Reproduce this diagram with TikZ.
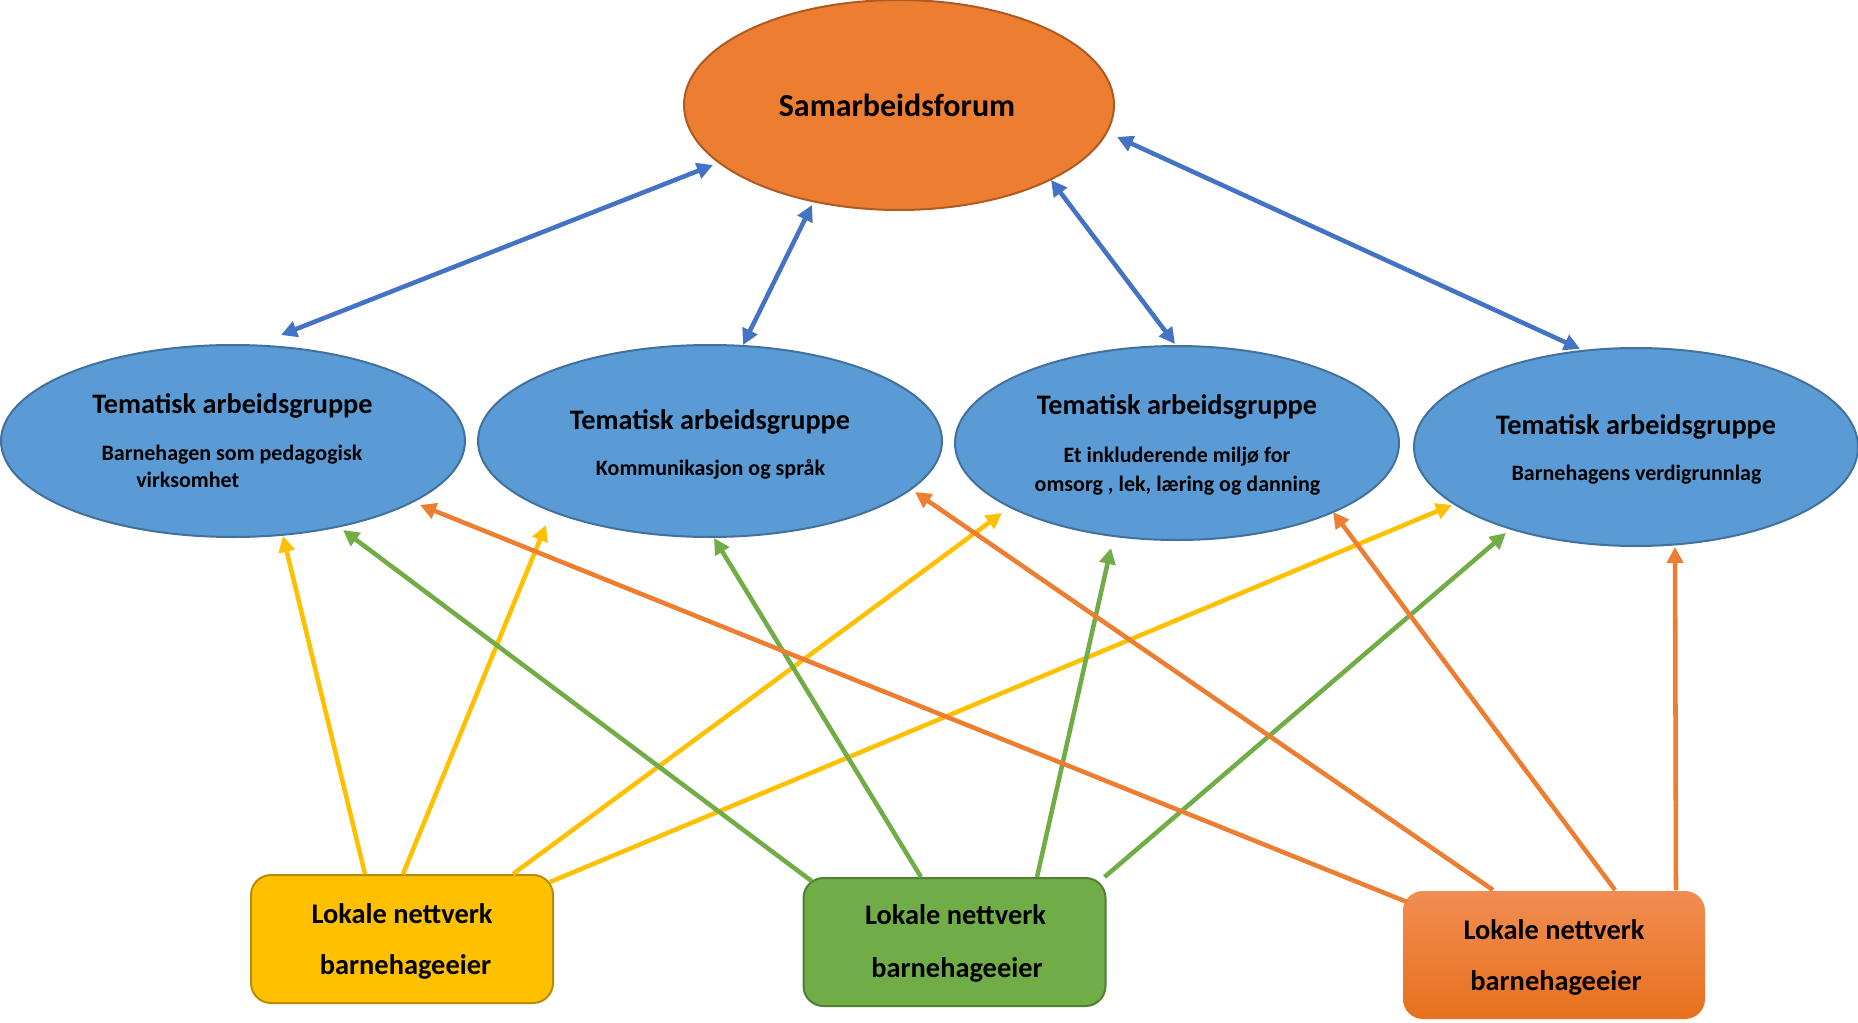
\documentclass[tikz,border=0pt]{standalone}
\usepackage{fontspec}
\setmainfont{Carlito}
\usetikzlibrary{shapes.geometric,arrows.meta,calc}
\definecolor{ellfill}{HTML}{5B9BD5}
\definecolor{ellborder}{HTML}{41719C}
\definecolor{samfill}{HTML}{ED7D31}
\definecolor{samborder}{HTML}{AE5A21}
\definecolor{arrblue}{HTML}{4472C4}
\definecolor{arryellow}{HTML}{FFC000}
\definecolor{arrgreen}{HTML}{70AD47}
\definecolor{arrorange}{HTML}{ED7D31}
\definecolor{yborder}{HTML}{BC8C00}
\definecolor{gborder}{HTML}{507E32}
\definecolor{otop}{HTML}{F18D52}
\definecolor{obot}{HTML}{E8701D}
\begin{document}
\begin{tikzpicture}[x=0.75pt,y=-0.75pt,
  ell/.style={ellipse, draw=ellborder, fill=ellfill, line width=1.5pt, inner sep=0pt},
  netbox/.style={rectangle, rounded corners=15pt, line width=1.5pt, inner sep=0pt,
     minimum width=226.5pt, minimum height=96pt},
  head/.style={font=\bfseries\fontsize{21.2}{25}\selectfont, anchor=base, inner sep=0pt},
  lok/.style={font=\bfseries\fontsize{21.3}{25}\selectfont, anchor=base, inner sep=0pt},
  sub/.style={font=\bfseries\fontsize{16.5}{19}\selectfont, anchor=base, inner sep=0pt},
  arr/.style={line width=3.4pt, -{Triangle[length=12pt,width=12pt]}},
  darr/.style={line width=3.4pt, arrblue, {Triangle[length=12pt,width=12pt]}-{Triangle[length=12pt,width=12pt]}}
]
\useasboundingbox (0,0) rectangle (1858,1023);

% main nodes
\node[ellipse, draw=samborder, fill=samfill, line width=1.5pt, inner sep=0pt,
      minimum width=322.5pt, minimum height=157.5pt] (s) at (899,105) {};
\node[ell, minimum width=348pt, minimum height=144pt] (e1) at (233,441) {};
\node[ell, minimum width=348pt, minimum height=144pt] (e2) at (710,441) {};
\node[ell, minimum width=333pt, minimum height=145.5pt] (e3) at (1177,443) {};
\node[ell, minimum width=333pt, minimum height=148.5pt] (e4) at (1636,447) {};

\node[netbox, draw=yborder, fill=arryellow] (yb) at (402,939) {};
\node[netbox, draw=gborder, fill=arrgreen] (gb) at (954.5,942) {};
\node[netbox, draw=none, top color=otop, bottom color=obot] (ob) at (1554,955) {};

% texts
\node[font=\bfseries\fontsize{24}{28}\selectfont, anchor=base, inner sep=0pt] (st) at (897,116.5) {Samarbeidsforum};

\node[head] (h1) at (232.5,413) {Tematisk arbeidsgruppe};
\node[sub] (s1a) at (232,460) {Barnehagen som pedagogisk};
\node[sub, anchor=base west] (s1b) at (136,487) {virksomhet};

\node[head] (h2) at (710,429) {Tematisk arbeidsgruppe};
\node[sub] (s2) at (710.5,475) {Kommunikasjon og språk};

\node[head] (h3) at (1177,414) {Tematisk arbeidsgruppe};
\node[sub] (s3a) at (1177,462) {Et inkluderende miljø for};
\node[sub] (s3b) at (1177.5,491) {omsorg , lek, læring og danning};

\node[head] (h4) at (1636,434) {Tematisk arbeidsgruppe};
\node[sub] (s4) at (1636.5,480) {Barnehagens verdigrunnlag};

\node[lok] (yl1) at (402,923) {Lokale nettverk};
\node[lok] (yl2) at (405.5,974) {barnehageeier};
\node[lok] (gl1) at (955.5,924) {Lokale nettverk};
\node[lok] (gl2) at (957,977) {barnehageeier};
\node[lok] (ol1) at (1554,939) {Lokale nettverk};
\node[lok] (ol2) at (1556,990) {barnehageeier};

% blue double arrows
\draw[darr] ($(e1)+(48,-106)$) -- ($(s)+(-186,60)$);
\draw[darr] ($(e2)+(33,-96)$) -- ($(s)+(-87,100)$);
\draw[darr] ($(s)+(152,75)$) -- ($(e3)+(-2,-99)$);
\draw[darr] ($(s)+(218,32)$) -- ($(e4)+(-56,-98)$);

% yellow arrows
\draw[arr, arryellow] ($(yb.north)+(-37,0)$) -- ($(e1)+(50,95)$);
\draw[arr, arryellow] ($(yb.north)+(1,0)$) -- ($(e2)+(-164,84)$);
\draw[arr, arryellow] ($(yb.north)+(111,0)$) -- ($(e3)+(-175,70)$);
\draw[arr, arryellow] ($(yb.north east)+(-4,8)$) -- ($(e4)+(-184,58)$);

% green arrows
\draw[arr, arrgreen] ($(gb.north west)+(9,4)$) -- ($(e1)+(110,89)$);
\draw[arr, arrgreen] ($(gb.north)+(-33.5,0)$) -- ($(e2)+(4,97)$);
\draw[arr, arrgreen] ($(gb.north)+(82.5,0)$) -- ($(e3)+(-66,105)$);
\draw[arr, arrgreen] ($(gb.north east)+(-2,0)$) -- ($(e4)+(-130,86)$);

% orange arrows
\draw[arr, arrorange] ($(ob.north west)+(5,12)$) -- ($(e1)+(187,64)$);
\draw[arr, arrorange] ($(ob.north)+(-61,0)$) -- ($(e2)+(205,51)$);
\draw[arr, arrorange] ($(ob.north)+(61,0)$) -- ($(e3)+(156,69)$);
\draw[arr, arrorange] ($(ob.north)+(122,0)$) -- ($(e4)+(39,100)$);
\end{tikzpicture}
\end{document}
